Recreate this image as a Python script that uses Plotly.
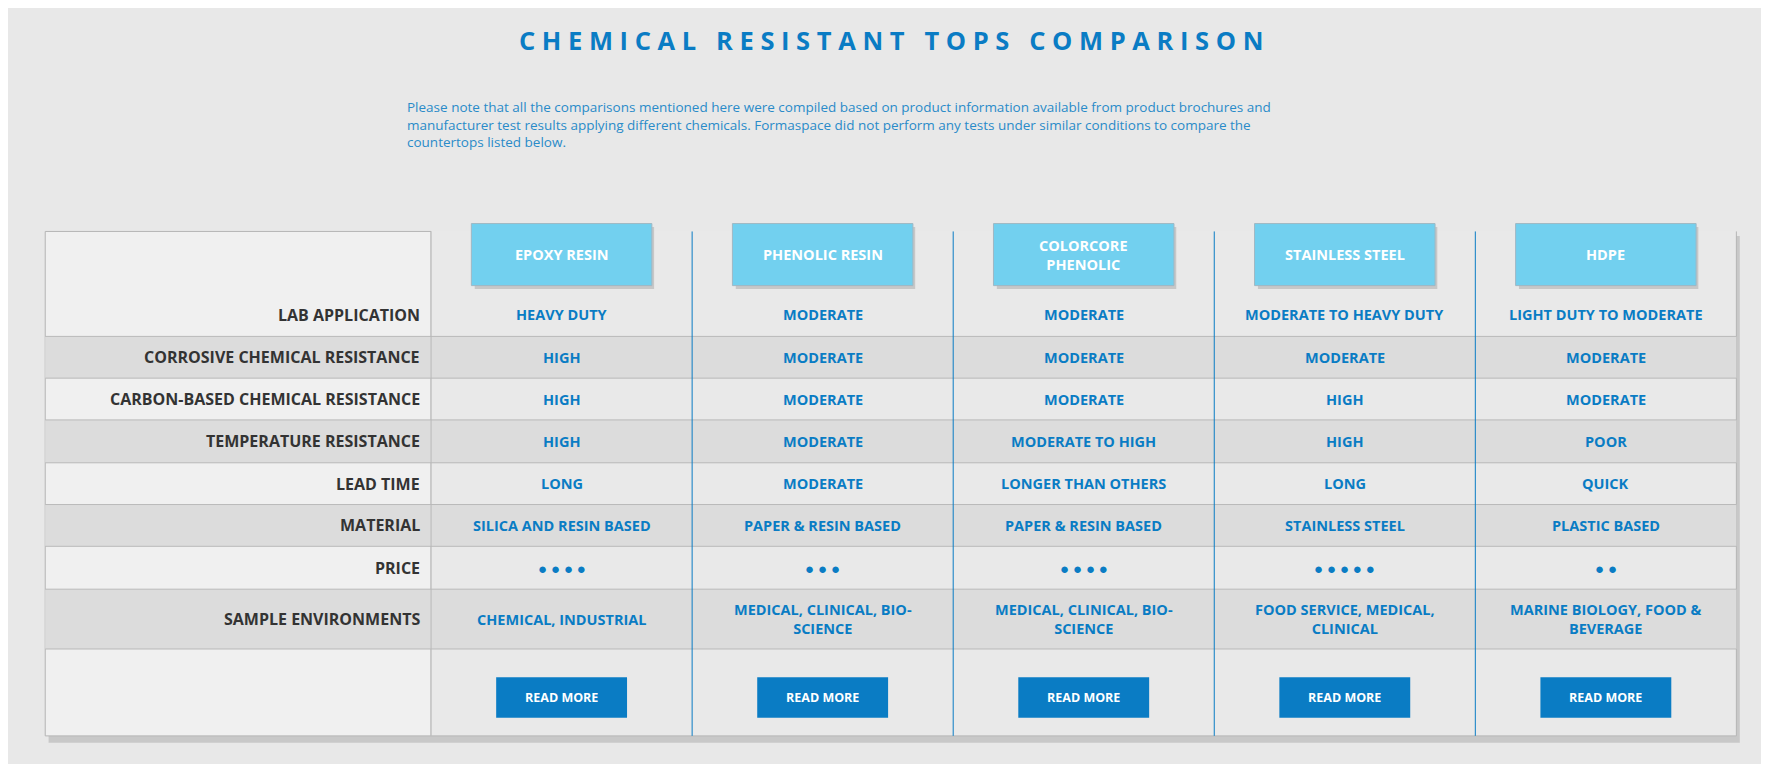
import plotly.graph_objects as go

# data
materials = ["EPOXY RESIN", "PHENOLIC RESIN", "COLORCORE<br>PHENOLIC", "STAINLESS STEEL", "HDPE"]
row_labels = ["LAB APPLICATION", "CORROSIVE CHEMICAL RESISTANCE", "CARBON-BASED CHEMICAL RESISTANCE",
              "TEMPERATURE RESISTANCE", "LEAD TIME", "MATERIAL", "PRICE", "SAMPLE ENVIRONMENTS"]
lab_application = ["HEAVY DUTY", "MODERATE", "MODERATE", "MODERATE TO HEAVY DUTY", "LIGHT DUTY TO MODERATE"]
corrosive = ["HIGH", "MODERATE", "MODERATE", "MODERATE", "MODERATE"]
carbon_based = ["HIGH", "MODERATE", "MODERATE", "HIGH", "MODERATE"]
temperature = ["HIGH", "MODERATE", "MODERATE TO HIGH", "HIGH", "POOR"]
lead_time = ["LONG", "MODERATE", "LONGER THAN OTHERS", "LONG", "QUICK"]
material = ["SILICA AND RESIN BASED", "PAPER & RESIN BASED", "PAPER & RESIN BASED", "STAINLESS STEEL", "PLASTIC BASED"]
price_dots = [4, 3, 4, 5, 2]
environments = ["CHEMICAL, INDUSTRIAL", "MEDICAL, CLINICAL, BIO-<br>SCIENCE", "MEDICAL, CLINICAL, BIO-<br>SCIENCE",
                "FOOD SERVICE, MEDICAL,<br>CLINICAL", "MARINE BIOLOGY, FOOD &<br>BEVERAGE"]
button_label = "READ MORE"

title = "C H E M I C A L   R E S I S T A N T   T O P S   C O M P A R I S O N"
note = ("Please note that all the comparisons mentioned here were compiled based on product information available from product brochures and<br>"
        "manufacturer test results applying different chemicals. Formaspace did not perform any tests under similar conditions to compare the<br>"
        "countertops listed below.")

rows = [lab_application, corrosive, carbon_based, temperature, lead_time, material,
        ["\u25CF " * n for n in price_dots], environments]

# layout geometry (in reference pixel units)
BLUE = "#0a7cc4"
left, label_right, right = 33, 375, 1532
col_w = (right - label_right) / len(materials)
row_edges = [253, 291, 328, 365, 403, 440, 477, 515, 568]
top, bottom = 198, 645
font = "Open Sans"

fig = go.Figure()
shapes, ann = [], []

# shadow + table body
shapes.append(dict(type="rect", x0=left + 3, x1=right + 3, y0=top + 4, y1=bottom + 6, fillcolor="#a8a8a8", line_width=0, layer="below", opacity=0.5))
shapes.append(dict(type="rect", x0=left, x1=label_right, y0=top, y1=bottom, fillcolor="#f0f0f0", line=dict(color="#b5b5b5", width=1)))
shapes.append(dict(type="rect", x0=label_right, x1=right, y0=top, y1=bottom, fillcolor="#e9e9e9", line_width=0))
for x in (right,):
    shapes.append(dict(type="line", x0=x, x1=x, y0=top, y1=bottom, line=dict(color="#b5b5b5", width=1)))
shapes.append(dict(type="line", x0=label_right, x1=right, y0=bottom, y1=bottom, line=dict(color="#b5b5b5", width=1)))

for i, lab in enumerate(row_labels):
    y0, y1 = row_edges[i], row_edges[i + 1]
    if i % 2 == 1:
        shapes.append(dict(type="rect", x0=left, x1=right, y0=y0, y1=y1, fillcolor="#dcdcdc", line_width=0))
    if i > 0:
        shapes.append(dict(type="line", x0=left, x1=right, y0=y0, y1=y0, line=dict(color="#b9b9b9", width=1)))
    ann.append(dict(x=label_right - 8, y=(y0 + y1) / 2, text="<b>" + lab + "</b>", xanchor="right", showarrow=False,
                    font=dict(family=font, size=16, color="#333333")))
    for j, val in enumerate(rows[i]):
        ann.append(dict(x=label_right + col_w * (j + 0.5), y=(y0 + y1) / 2, text="<b>" + val.strip() + "</b>",
                        showarrow=False, font=dict(family=font, size=14.5 if i != 6 else 15, color=BLUE)))
shapes.append(dict(type="line", x0=left, x1=right, y0=row_edges[-1], y1=row_edges[-1], line=dict(color="#b9b9b9", width=1)))
shapes.append(dict(type="line", x0=label_right, x1=label_right, y0=top, y1=bottom, line=dict(color="#b9b9b9", width=1)))

for j, m in enumerate(materials):
    cx = label_right + col_w * (j + 0.5)
    if j > 0:
        shapes.append(dict(type="line", x0=label_right + col_w * j, x1=label_right + col_w * j, y0=top, y1=bottom, line=dict(color=BLUE, width=1)))
    shapes.append(dict(type="rect", x0=cx - 77, x1=cx - 77 + 159, y0=194, y1=249, fillcolor="#b0b0b0", line_width=0, opacity=0.6))
    shapes.append(dict(type="rect", x0=cx - 80, x1=cx + 80, y0=191, y1=246, fillcolor="#72d0ef", line=dict(color="#9fb8c4", width=1)))
    ann.append(dict(x=cx, y=218.5, text="<b>" + m + "</b>", showarrow=False, font=dict(family=font, size=14.5, color="white")))
    shapes.append(dict(type="rect", x0=cx - 58, x1=cx + 58, y0=593, y1=629, fillcolor=BLUE, line_width=0))
    ann.append(dict(x=cx, y=611, text="<b>" + button_label + "</b>", showarrow=False, font=dict(family=font, size=12.5, color="white")))

ann.append(dict(x=783, y=28, text="<b>" + title + "</b>", showarrow=False, font=dict(family=font, size=25.5, color=BLUE)))
ann.append(dict(x=352, y=103, text=note, showarrow=False, xanchor="left", align="left",
                font=dict(family=font, size=13.5, color="#2a8bc9")))

fig.update_layout(width=1769, height=764, margin=dict(l=0, r=0, t=0, b=0),
                  paper_bgcolor="#e8e8e8", plot_bgcolor="#e8e8e8",
                  xaxis=dict(range=[0, 1568], visible=False, fixedrange=True),
                  yaxis=dict(range=[677, 0], visible=False, fixedrange=True),
                  shapes=shapes, annotations=ann, showlegend=False)
fig.write_html("out.html")
